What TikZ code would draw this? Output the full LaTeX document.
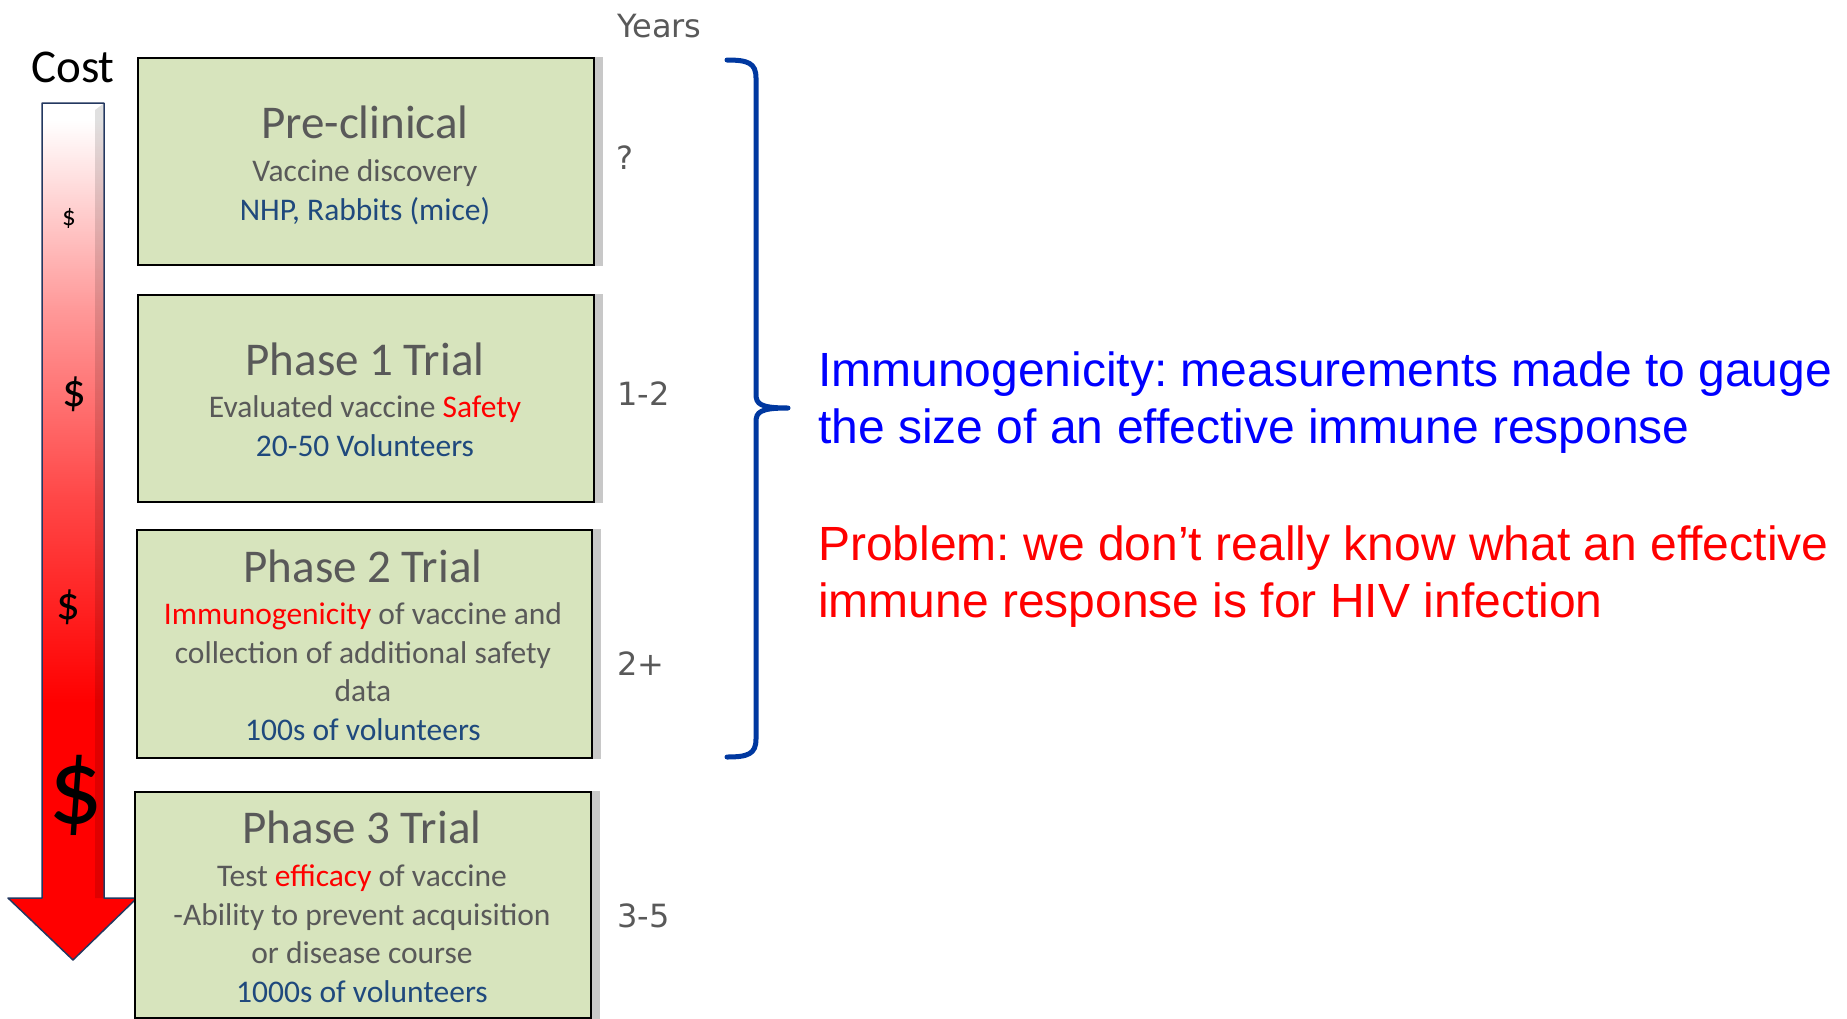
\documentclass[tikz,border=0pt]{standalone}
\usepackage{fontspec}
\setmainfont{Carlito}
\newfontfamily\yearsfont{DejaVu Sans}
\newfontfamily\notefont{Liberation Sans}
\frenchspacing
\definecolor{boxgreen}{RGB}{215,228,189}
\definecolor{boxshadow}{RGB}{200,200,200}
\definecolor{textgray}{RGB}{89,89,89}
\definecolor{navytext}{RGB}{31,73,125}
\definecolor{bracecol}{RGB}{0,56,160}
\definecolor{arrowedge}{RGB}{36,56,96}
\definecolor{noteblue}{RGB}{0,0,255}
\pgfdeclareverticalshading{costfade}{100bp}{color(0bp)=(red); color(40bp)=(red);
  color(52bp)=(red!72); color(63bp)=(red!40); color(74bp)=(white); color(100bp)=(white)}

\tikzset{
  phasebox/.style={draw=black, line width=2pt, fill=boxgreen, anchor=north west,
    inner sep=0pt, minimum width=456pt, minimum height=#1},
  phasetitle/.style={font=\fontsize{47}{56}\selectfont, text=textgray, anchor=base, inner sep=0pt},
  phasetext/.style={font=\fontsize{31.5}{38.5}\selectfont, text=textgray, anchor=base,
    align=center, inner sep=0pt},
  yearlabel/.style={font=\yearsfont\fontsize{32}{38}\selectfont, text=textgray,
    anchor=base west, inner sep=0pt},
  dollar/.style={font=\fontsize{#1}{#1}\selectfont, inner sep=0pt},
  note/.style={font=\notefont\fontsize{48}{56.5}\selectfont, anchor=base west, align=left, inner sep=0pt}
}

\begin{document}
\begin{tikzpicture}[x=1pt, y=-1pt]
\useasboundingbox (0,0) rectangle (1847,1018);

% Fleche des couts
\shade[shading=costfade, draw=arrowedge, line width=1.5pt, line join=round]
  (42,103) -- (104,103) -- (104,898) -- (137,898) -- (73,960) -- (8,898) -- (42,898) -- cycle;
\fill[black, opacity=0.12] (95,110) -- (103,104) -- (103,898) -- (95,898) -- cycle;
\node[font=\fontsize{47}{56}\selectfont, anchor=base, inner sep=0pt] (cost) at (73,82) {Cost};
\node[dollar=27] (d1) at (69,218) {\$};
\node[dollar=47] (d2) at (74,394) {\$};
\node[dollar=47] (d3) at (68,607) {\$};
\node[dollar=108] (d4) at (76,795) {\$};

% Pre-clinical (ancre base = derniere ligne)
\node[phasebox=207pt] (pre) at (137,57) {};
\fill[boxshadow] (pre.north east) rectangle ([xshift=8pt]pre.south east);
\node[phasetitle] (pretitle) at (365,138) {Pre-clinical};
\node[phasetext] (pretext) at (365,220) {Vaccine discovery\\
  \textcolor{navytext}{NHP, Rabbits (mice)}};

% Phase 1
\node[phasebox=207pt] (ph1) at (137,294) {};
\fill[boxshadow] (ph1.north east) rectangle ([xshift=8pt]ph1.south east);
\node[phasetitle] (ph1title) at (365,375) {Phase 1 Trial};
\node[phasetext] (ph1text) at (365,456) {Evaluated vaccine \textcolor{red}{Safety}\\
  \textcolor{navytext}{20-50 Volunteers}};

% Phase 2
\node[phasebox=228pt, minimum width=455pt] (ph2) at (136,529) {};
\fill[boxshadow] (ph2.north east) rectangle ([xshift=8pt]ph2.south east);
\node[phasetitle] (ph2title) at (363,582) {Phase 2 Trial};
\node[phasetext] (ph2text) at (363,740) {\textcolor{red}{Immunogenicity} of vaccine and\\
  collection of additional safety\\ data\\
  \textcolor{navytext}{100s of volunteers}};

% Phase 3
\node[phasebox=226pt] (ph3) at (134,791) {};
\fill[boxshadow] (ph3.north east) rectangle ([xshift=8pt]ph3.south east);
\node[phasetitle] (ph3title) at (362,843) {Phase 3 Trial};
\node[phasetext] (ph3text) at (362,1002) {Test \textcolor{red}{efficacy} of vaccine\\
  -Ability to prevent acquisition\\ or disease course\\
  \textcolor{navytext}{1000s of volunteers}};

% Durees
\node[yearlabel] (years) at (617,37) {Years};
\node[yearlabel] (y0) at (616,169) {?};
\node[yearlabel] (y1) at (617,405) {1-2};
\node[yearlabel] (y2) at (617,675) {2+};
\node[yearlabel] (y3) at (617,927) {3-5};

% Accolade
\draw[bracecol, line width=5pt, line cap=round, line join=round]
  (727,60) .. controls (748,60) and (756,63) .. (756,78) -- (756,394)
    .. controls (756,404) and (760,408) .. (788,408)
  (727,757) .. controls (748,757) and (756,754) .. (756,739) -- (756,422)
    .. controls (756,412) and (760,408) .. (788,408);

% Remarques
\node[note, text=noteblue] (immuno) at (818,443) {Immunogenicity: measurements made to gauge\\
  the size of an effective immune response};
\node[note, text=red] (problem) at (818,617) {Problem: we don’t really know what an effective\\
  immune response is for HIV infection};

\end{tikzpicture}
\end{document}
